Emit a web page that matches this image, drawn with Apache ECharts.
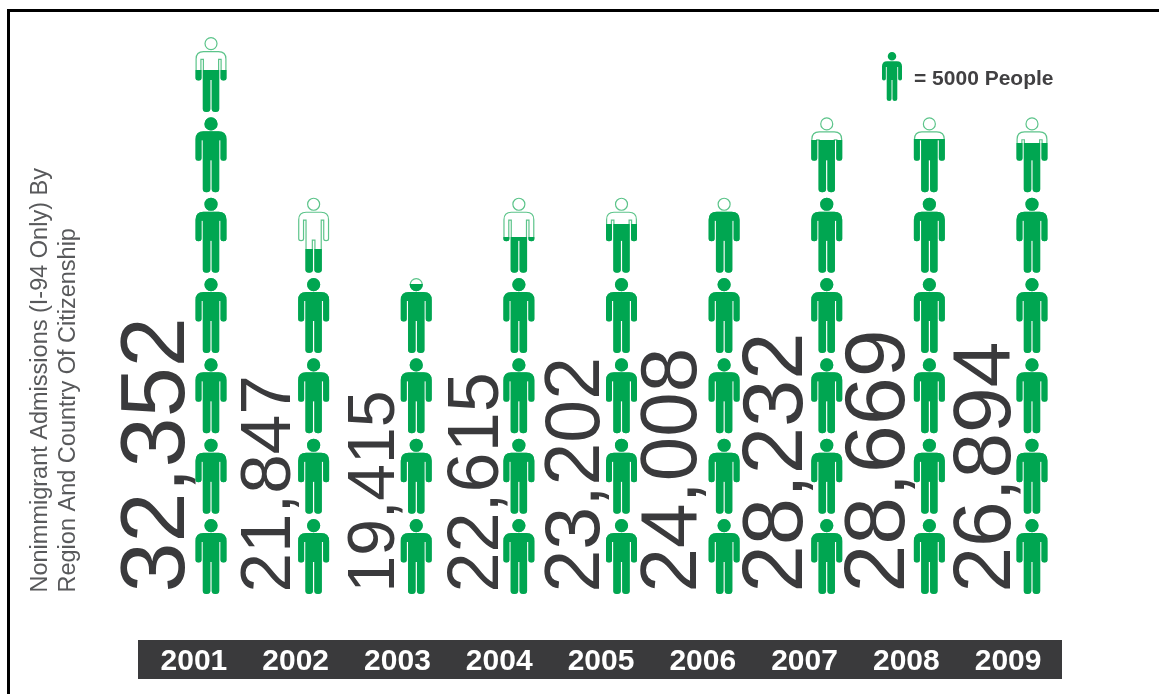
<!DOCTYPE html>
<html><head><meta charset="utf-8">
<script src="https://cdn.jsdelivr.net/npm/echarts@6/dist/echarts.min.js"></script>
<style>html,body{margin:0;padding:0;background:#fff}#c{width:1159px;height:694px}</style>
</head><body><div id="c"></div>
<script>
const years = ['2001','2002','2003','2004','2005','2006','2007','2008','2009'];
const admissions = [32352,21847,19415,22615,23202,24008,28232,28669,26894];
// height the green fill reaches in the picture, and number of person outlines drawn
const drawnFill = [32926,21679,19479,22433,23250,24067,28528,28591,28339];
const iconCount = [7,5,4,5,5,5,6,6,6];
const unit = 5000;
const legendLabel = '= 5000 People';
const axisTitle = 'Nonimmigrant Admissions (I-94 Only) By\nRegion And Country Of Citizenship';

const labelSizes = [90,71,66,72,77,80,85,86,82];
const labelShift = [-7,-8,-7,-5,-5,-10,-6,-6,-4];
const outerHead = 'M15.5 0a6.6 6.6 0 1 1 0 13.2a6.6 6.6 0 1 1 0-13.2Z';
const outerBody = 'M8 14H23Q31 14 31 22V41Q31 43.5 28 43.5Q25 43.5 25 41V23H23.7V72Q23.7 75 20 75Q16.2 75 16.2 72V43H14.8V72Q14.8 75 11 75Q7.3 75 7.3 72V23H6V41Q6 43.5 3 43.5Q0 43.5 0 41V22Q0 14 8 14Z';
const innerHead = 'M15.5 1.2a5.4 5.4 0 1 0 0 10.8a5.4 5.4 0 1 0 0-10.8Z';
const innerBody = 'M8 15.2Q1.2 15.2 1.2 22V41Q1.2 42.3 3 42.3Q4.8 42.3 4.8 41V21.8H8.5V72Q8.5 73.8 11 73.8Q13.6 73.8 13.6 72V41.8H17.4V72Q17.4 73.8 20 73.8Q22.5 73.8 22.5 72V21.8H26.2V41Q26.2 42.3 28 42.3Q29.8 42.3 29.8 41V22Q29.8 15.2 23 15.2Z';
const person = 'path://' + outerHead + outerBody;
const personOutline = 'path://' + outerHead + innerHead + outerBody + innerBody;
const green = '#00a651', dark = '#3a3a3c';
const common = {type:'pictorialBar',xAxisIndex:0,yAxisIndex:0,symbolSize:[31,75],symbolRepeat:7,symbolClip:true,symbolBoundingData:35000,barWidth:34,animation:false};

const chart = echarts.init(document.getElementById('c'),null,{renderer:'canvas'});
chart.setOption({
  animation:false,
  backgroundColor:'#fff',
  grid:[
    {left:159.7,width:923.6,top:37,height:557},
    {left:143,width:916,top:640,height:39}
  ],
  xAxis:[
    {type:'category',data:years,gridIndex:0,show:false},
    {type:'category',data:years,gridIndex:1,axisLine:{show:false},axisTick:{show:false},
     axisLabel:{color:'#fff',fontFamily:'Liberation Sans',fontWeight:'bold',fontSize:30,margin:-32,interval:0}}
  ],
  yAxis:[
    {type:'value',gridIndex:0,min:0,max:35000,interval:unit,offset:105,splitLine:{show:false},axisLine:{show:false},axisTick:{show:false},axisLabel:{show:false},
     name:axisTitle,nameLocation:'start',nameRotate:90,nameGap:-1.5,
     nameTextStyle:{color:'#58595b',fontFamily:'Liberation Sans',fontSize:23.5,lineHeight:28,align:'left',verticalAlign:'middle'}},
    {type:'value',gridIndex:1,show:false,min:0,max:1}
  ],
  legend:{left:882,top:52,padding:0,itemWidth:20,itemHeight:49,itemGap:0,icon:person,symbolKeepAspect:false,
    data:[legendLabel],selectedMode:false,
    formatter:n=>'{a|'+n+'}',
    textStyle:{rich:{a:{color:'#414042',fontFamily:'Liberation Sans',fontWeight:'bold',fontSize:21,padding:[6,0,0,7]}}}},
  graphic:[
    {type:'rect',z:-1,shape:{x:138,y:640,width:924,height:39},style:{fill:dark}},
    {type:'line',shape:{x1:7,y1:10.5,x2:1159,y2:10.5},style:{stroke:'#000',lineWidth:3}},
    {type:'line',shape:{x1:8.5,y1:9,x2:8.5,y2:694},style:{stroke:'#000',lineWidth:3}}
  ],
  series:[
    Object.assign({},common,{name:'outline',symbol:personOutline,z:3,data:iconCount.map(n=>n*unit),
      itemStyle:{color:'#5cc48a'}}),
    Object.assign({},common,{name:legendLabel,symbol:person,z:4,data:drawnFill,itemStyle:{color:green}}),
    {type:'scatter',name:'values',xAxisIndex:0,yAxisIndex:0,z:2,symbolSize:0,silent:true,itemStyle:{opacity:1},
     data:admissions.map((v,i)=>({value:[i,0],label:{fontSize:labelSizes[i],offset:[1.5,labelShift[i]]}})),
     label:{show:true,position:'inside',rotate:90,align:'left',verticalAlign:'bottom',
       color:dark,fontFamily:'Liberation Sans',
       formatter:p=>admissions[p.dataIndex].toLocaleString('en-US')}}
  ]
});
</script></body></html>
